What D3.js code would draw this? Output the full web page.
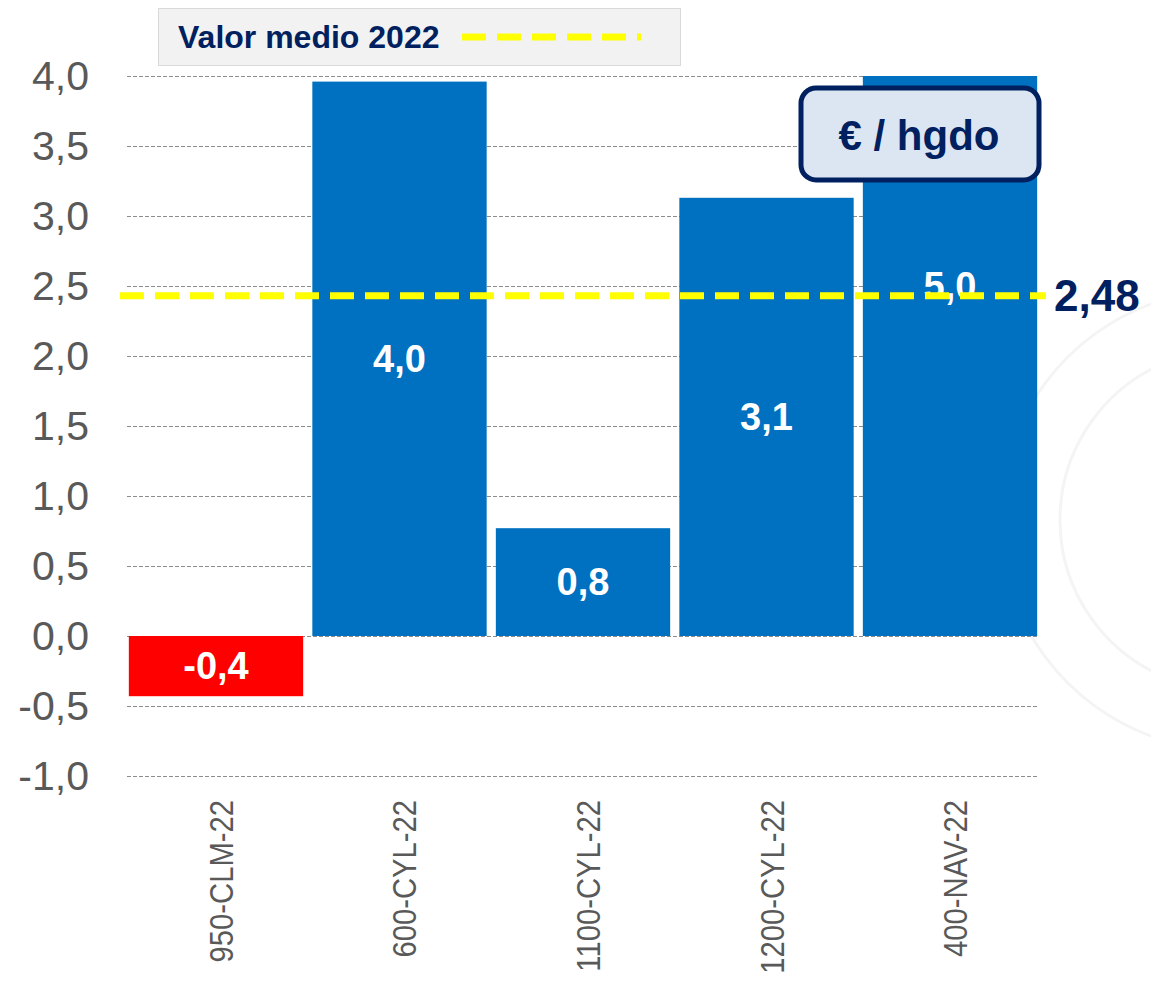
<!DOCTYPE html>
<html>
<head>
<meta charset="utf-8">
<script src="https://cdn.jsdelivr.net/npm/d3@7"></script>
<style>
  body { margin: 0; background: #fff; }
  svg { display: block; font-family: "Liberation Sans", Arial, sans-serif; }
</style>
</head>
<body>
<script>
const categories = ["950-CLM-22", "600-CYL-22", "1100-CYL-22", "1200-CYL-22", "400-NAV-22"];
const values = [-0.43, 3.96, 0.77, 3.13, 5.0];
const valueLabels = ["-0,4", "4,0", "0,8", "3,1", "5,0"];
const yTicks = [-1, -0.5, 0, 0.5, 1, 1.5, 2, 2.5, 3, 3.5, 4];
const meanValue = 2.43;
const meanLabel = "2,48";
const legendLabel = "Valor medio 2022";
const unitLabel = "€ / hgdo";

const width = 1151, height = 984;
const svg = d3.select("body").append("svg")
    .attr("width", width)
    .attr("height", height);

// faint watermark arcs
const wm = svg.append("g").attr("fill", "none").attr("stroke", "#f4f4f4").attr("stroke-width", 3);
[170, 230].forEach(r => {
  wm.append("path")
    .attr("d", d3.arc()({innerRadius: r, outerRadius: r, startAngle: Math.PI * 1.1, endAngle: Math.PI * 1.9}))
    .attr("transform", "translate(1230,520)");
});

const x = d3.scaleBand().domain(categories).range([127, 1039]).paddingInner(0.05).paddingOuter(0.01);
const y = d3.scaleLinear().domain([-1, 4]).range([776, 76]);

// gridlines
svg.append("g")
  .selectAll("line")
  .data(yTicks)
  .join("line")
    .attr("x1", 127).attr("x2", 1039)
    .attr("y1", d => y(d) + 0.5).attr("y2", d => y(d) + 0.5)
    .attr("stroke", "#8c8c8c")
    .attr("stroke-width", 1)
    .attr("stroke-dasharray", "4,2");

// y axis labels
const fmt = d => d3.format(".1f")(d).replace(".", ",").replace("−", "-");
svg.append("g")
  .selectAll("text")
  .data(yTicks)
  .join("text")
    .attr("x", 89)
    .attr("y", d => y(d))
    .attr("dy", "0.35em")
    .attr("text-anchor", "end")
    .attr("fill", "#595959")
    .attr("font-size", 41)
    .text(fmt);

// bars, clipped to the plot top
svg.append("clipPath").attr("id", "plot")
  .append("rect").attr("x", 0).attr("y", y(4)).attr("width", width).attr("height", y(-1) - y(4));

svg.append("g").attr("clip-path", "url(#plot)")
  .selectAll("rect")
  .data(values)
  .join("rect")
    .attr("x", (d, i) => x(categories[i]))
    .attr("width", x.bandwidth())
    .attr("y", d => y(Math.max(0, d)))
    .attr("height", d => Math.abs(y(d) - y(0)))
    .attr("fill", d => d < 0 ? "#ff0000" : "#0070c0");

// value labels
svg.append("g")
  .selectAll("text")
  .data(values)
  .join("text")
    .attr("x", (d, i) => x(categories[i]) + x.bandwidth() / 2)
    .attr("y", d => y(d / 2))
    .attr("dy", "0.35em")
    .attr("text-anchor", "middle")
    .attr("fill", "#fff")
    .attr("font-weight", "bold")
    .attr("font-size", 38)
    .text((d, i) => valueLabels[i]);

// mean line
svg.append("line")
  .attr("x1", 120).attr("x2", 1046)
  .attr("y1", y(meanValue)).attr("y2", y(meanValue))
  .attr("stroke", "#ffff00")
  .attr("stroke-width", 7)
  .attr("stroke-dasharray", "24,11");

svg.append("text")
  .attr("x", 1054)
  .attr("y", y(meanValue))
  .attr("dy", "0.35em")
  .attr("fill", "#002060")
  .attr("font-weight", "bold")
  .attr("font-size", 44)
  .text(meanLabel);

// x labels
svg.append("g")
  .selectAll("text")
  .data(categories)
  .join("text")
    .attr("transform", d => `translate(${x(d) + x.bandwidth() / 2 + 17},800) rotate(-90) scale(0.86,1)`)
    .attr("text-anchor", "end")
    .attr("fill", "#595959")
    .attr("font-size", 34)
    .text(d => d);

// legend
const lg = svg.append("g");
lg.append("rect")
  .attr("x", 158.5).attr("y", 8.5).attr("width", 522).attr("height", 57)
  .attr("fill", "#f2f2f2").attr("stroke", "#d9d9d9");
lg.append("text")
  .attr("x", 178).attr("y", 48)
  .attr("fill", "#002060")
  .attr("font-weight", "bold")
  .attr("font-size", 32)
  .text(legendLabel);
lg.append("line")
  .attr("x1", 462).attr("x2", 641)
  .attr("y1", 37).attr("y2", 37)
  .attr("stroke", "#ffff00")
  .attr("stroke-width", 7)
  .attr("stroke-dasharray", "24,11");

// unit box
const ub = svg.append("g");
ub.append("rect")
  .attr("x", 801).attr("y", 88).attr("width", 238).attr("height", 92)
  .attr("rx", 15)
  .attr("fill", "#dce6f2").attr("stroke", "#002060").attr("stroke-width", 5);
ub.append("text")
  .attr("x", 919).attr("y", 135)
  .attr("dy", "0.35em")
  .attr("text-anchor", "middle")
  .attr("fill", "#002060")
  .attr("font-weight", "bold")
  .attr("font-size", 42)
  .text(unitLabel);
</script>
</body>
</html>
